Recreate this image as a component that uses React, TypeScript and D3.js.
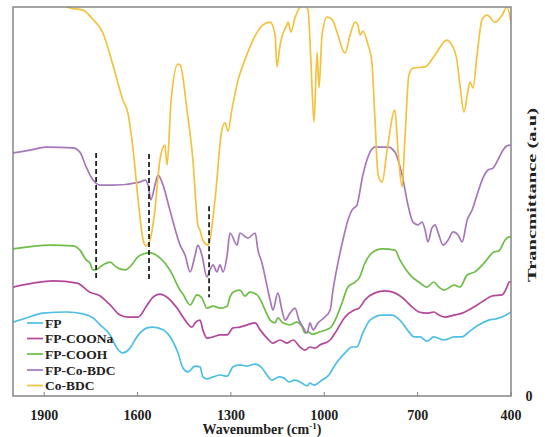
import React from "react";
import * as d3 from "d3";

const W = 545;
const H = 437;
const M = { left: 13, right: 34, top: 7, bottom: 41 };

const xTicks = [1900, 1600, 1300, 1000, 700, 400];

const seriesNames = ["FP", "FP-COONa", "FP-COOH", "FP-Co-BDC", "Co-BDC"];
const seriesColors = ["#4dbfe4", "#b4479a", "#6dbd47", "#a677bb", "#f3c23e"];

// [wavenumber, transmittance (a.u.)]
const fpData: [number, number][] = [
  [2000, 19], [1955, 20.1], [1904, 21.3], [1827, 21.6], [1775, 21.1], [1743, 20.1], [1720, 18.3],
  [1688, 15.7], [1666, 12.3], [1647, 11.1], [1624, 12.3], [1602, 15.2], [1569, 17.5], [1550, 17.7],
  [1518, 17], [1489, 14.4], [1470, 11.1], [1454, 7.2], [1438, 6.2], [1415, 7.7], [1399, 7.5],
  [1390, 4.9], [1377, 4.4], [1357, 4.9], [1335, 5.4], [1312, 5.1], [1293, 7.5], [1271, 8],
  [1248, 7.7], [1222, 8.2], [1200, 7.2], [1184, 5.4], [1168, 4.1], [1145, 4.9], [1129, 4.6],
  [1113, 3.6], [1094, 4.1], [1071, 3.3], [1055, 2.6], [1046, 3.3], [1033, 2.8], [1007, 4.1],
  [985, 5.4], [969, 7.5], [953, 9.3], [933, 11.1], [911, 12.6], [895, 12.6], [876, 16.2],
  [853, 19.5], [814, 20.8], [782, 20.8], [757, 19.5], [728, 16.5], [712, 15.2], [692, 15.2],
  [670, 14.1], [648, 15.2], [615, 14.4], [583, 15.2], [557, 15.2], [535, 16.5], [503, 18.3],
  [471, 19.5], [451, 19.8], [429, 20.3], [406, 21.3], [400, 21.6],
];

const fpCOONaData: [number, number][] = [
  [2000, 28], [1936, 29], [1871, 29.6], [1794, 29], [1753, 26.7], [1720, 25.7], [1688, 23.4],
  [1656, 20.8], [1631, 20.3], [1598, 20.3], [1569, 23.4], [1550, 25.4], [1528, 26.2], [1502, 25.2],
  [1473, 22.6], [1447, 19.5], [1425, 17.7], [1415, 18.8], [1399, 19.5], [1390, 17], [1377, 14.9],
  [1357, 15.2], [1335, 15.7], [1312, 15.7], [1293, 17.5], [1271, 17.7], [1248, 18.3], [1222, 18.8],
  [1206, 17], [1184, 14.9], [1165, 13.6], [1142, 14.4], [1120, 13.6], [1100, 14.4], [1078, 12.6],
  [1062, 11.8], [1046, 12.6], [1030, 12.3], [1014, 13.1], [981, 14.4], [965, 16.2], [933, 20.3],
  [904, 22.1], [888, 22.6], [869, 24.7], [837, 26.5], [805, 27], [773, 26.5], [741, 24.7],
  [718, 22.9], [696, 21.6], [670, 21.3], [648, 21.6], [632, 20.8], [612, 20.3], [583, 20.8],
  [557, 21.3], [525, 22.6], [493, 24.2], [461, 25.7], [429, 26], [413, 28], [406, 29.3], [400, 29.3],
];

const fpCOOHData: [number, number][] = [
  [2000, 37.8], [1881, 38.8], [1807, 38.6], [1785, 37.5], [1765, 35], [1753, 34.2], [1743, 32.4],
  [1730, 32.6], [1711, 33.7], [1688, 34.4], [1669, 33.2], [1640, 32.4], [1614, 34.2], [1602, 35.5],
  [1582, 36.5], [1560, 36.8], [1528, 35.5], [1496, 32.4], [1463, 27.2], [1454, 26.2], [1431, 23.4],
  [1409, 26], [1393, 25.2], [1377, 22.6], [1357, 23.1], [1335, 22.6], [1312, 23.1], [1303, 25.4],
  [1293, 26.7], [1271, 27.2], [1255, 25.7], [1239, 26.7], [1216, 26], [1200, 23.9], [1190, 22.1],
  [1174, 19.5], [1158, 18.8], [1149, 20.1], [1133, 18.8], [1110, 18.3], [1088, 19], [1071, 17.7],
  [1062, 16.2], [1052, 16.5], [1039, 15.9], [1014, 16.5], [981, 17.5], [965, 19.5], [943, 23.9],
  [924, 28], [901, 29.3], [888, 30.3], [869, 34.2], [847, 36.8], [814, 37.8], [773, 37.5],
  [757, 35], [718, 30.6], [696, 29.3], [670, 28], [648, 29.3], [632, 28], [615, 27.2], [583, 28.5],
  [564, 28], [541, 31.1], [516, 31.9], [484, 34.4], [455, 37], [439, 37.3], [419, 40.1], [406, 40.9],
  [400, 40.9],
];

const fpCoBDCData: [number, number][] = [
  [2000, 62.5], [1945, 63.2], [1894, 64], [1807, 63.8], [1785, 62.7], [1765, 58.9], [1743, 55.5],
  [1720, 54.2], [1679, 54.2], [1592, 55], [1576, 55.5], [1566, 54.2], [1557, 50.4], [1544, 54.2],
  [1534, 56.8], [1518, 54.2], [1496, 47.8], [1463, 38.8], [1447, 36.2], [1431, 31.9], [1415, 36.2],
  [1406, 38.8], [1393, 36.2], [1377, 30.6], [1367, 32.4], [1357, 33.7], [1345, 31.9], [1335, 33.7],
  [1325, 31.9], [1312, 36.2], [1303, 41.9], [1280, 38.8], [1271, 41.9], [1245, 40.6], [1222, 41.9],
  [1213, 37.5], [1200, 34.2], [1190, 30.6], [1174, 24.7], [1165, 22.1], [1149, 26.5], [1136, 22.1],
  [1126, 19.5], [1110, 21.3], [1094, 22.6], [1081, 19.5], [1068, 17.7], [1055, 16.2], [1046, 18.8],
  [1036, 17], [1020, 18.8], [998, 20.3], [981, 22.1], [972, 27.2], [956, 34.2], [940, 40.1],
  [924, 45.2], [911, 47.8], [895, 49.1], [876, 56.8], [853, 62.7], [837, 64], [795, 64], [773, 62.7],
  [750, 56.8], [731, 49.1], [715, 44.7], [699, 44], [686, 44.7], [676, 42.7], [667, 39.6], [654, 43.2],
  [644, 44], [635, 42.2], [618, 38.8], [602, 40.1], [586, 42.2], [570, 41.4], [557, 39.6], [541, 45.2],
  [525, 47.8], [509, 51.7], [493, 55.5], [474, 58.1], [458, 58.6], [442, 60.7], [426, 63.2],
  [413, 64.3], [400, 64.5],
];

const coBDCData: [number, number][] = [
  [2000, 103], [1960, 101.5], [1952, 100.3], [1940, 101.8], [1900, 103], [1850, 101.5], [1833, 100.2],
  [1807, 99.6], [1775, 99.2], [1743, 96.8], [1711, 93.3], [1679, 85.1], [1647, 76.1], [1631, 72.8],
  [1614, 63.2], [1598, 50.4], [1582, 40.1], [1573, 38.6], [1560, 40.1], [1544, 47.8], [1528, 60.7],
  [1512, 64.5], [1505, 59.4], [1492, 76.1], [1470, 85.3], [1463, 85.1], [1441, 73.5], [1422, 60.7],
  [1406, 44], [1400, 42.8], [1390, 40.1], [1373, 38.8], [1351, 50.4], [1329, 68.4], [1319, 70.2],
  [1309, 68.1], [1297, 73.5], [1277, 81.2], [1255, 86.4], [1229, 91.5], [1197, 95.4], [1174, 96.1],
  [1158, 92.8], [1152, 84.6], [1142, 90.2], [1120, 95.4], [1116, 96.1], [1107, 93.6], [1094, 97.2],
  [1078, 100], [1068, 100.6], [1058, 100], [1052, 99.2], [1043, 86.4], [1033, 70.4], [1023, 88.4],
  [1017, 79.2], [1007, 92.8], [991, 97.4], [975, 96.8], [956, 92.8], [937, 88.4], [933, 88.2],
  [917, 92.8], [901, 96.1], [892, 95.4], [885, 92.8], [876, 93.8], [859, 90.2], [847, 85.9],
  [837, 71], [827, 56.8], [814, 55], [798, 63.2], [773, 73.5], [763, 63.2], [750, 53.7], [741, 65.8],
  [728, 82.5], [715, 84.3], [676, 84.6], [644, 87.7], [606, 91.5], [590, 90.2], [574, 86.4],
  [564, 79.9], [551, 73], [538, 78.7], [532, 80.7], [522, 79.2], [509, 87.7], [493, 96.8],
  [477, 97.9], [451, 96.1], [429, 97.9], [413, 100], [400, 96.1],
];

const allSeries = [fpData, fpCOONaData, fpCOOHData, fpCoBDCData, coBDCData];

// marker wavenumbers with vertical extent (a.u.)
const markerWavenumbers = [1733, 1563, 1370];
const markerTops = [62.5, 62.2, 48.8];
const markerBottoms = [29.8, 29.3, 25.4];

export default function App() {
  const x = d3.scaleLinear().domain([2000, 400]).range([M.left, W - M.right]);
  const y = d3.scaleLinear().domain([0, 100]).range([H - M.bottom, M.top]);
  const line = d3
    .line<[number, number]>()
    .x((d) => x(d[0]))
    .y((d) => y(d[1]))
    .curve(d3.curveMonotoneX);

  const font = "'Liberation Serif', 'Times New Roman', serif";
  const plotW = W - M.left - M.right;
  const plotH = H - M.top - M.bottom;
  const legendY = [323, 338.5, 354, 370, 385.5];

  return (
    <svg
      width={W}
      height={H}
      style={{ position: "absolute", left: 0, top: 0, background: "#fff" }}
    >
      <defs>
        <clipPath id="plotclip">
          <rect x={M.left} y={M.top} width={plotW} height={plotH} />
        </clipPath>
      </defs>
      <g clipPath="url(#plotclip)">
        {allSeries.map((s, i) => (
          <path
            key={seriesNames[i]}
            d={line(s) || ""}
            fill="none"
            stroke={seriesColors[i]}
            strokeWidth={1.7}
          />
        ))}
      </g>
      {markerWavenumbers.map((w, i) => (
        <line
          key={w}
          x1={x(w)}
          x2={x(w)}
          y1={y(markerTops[i])}
          y2={y(markerBottoms[i])}
          stroke="#222"
          strokeWidth={1.8}
          strokeDasharray="5,3"
        />
      ))}
      <rect
        x={M.left}
        y={M.top}
        width={plotW}
        height={plotH}
        fill="none"
        stroke="#858585"
        strokeWidth={1.5}
      />
      {xTicks.map((t) => (
        <g key={t}>
          <line
            x1={x(t)}
            x2={x(t)}
            y1={H - M.bottom}
            y2={H - M.bottom - 4}
            stroke="#858585"
            strokeWidth={1}
          />
          <text
            x={x(t)}
            y={420}
            textAnchor="middle"
            fontFamily={font}
            fontWeight="bold"
            fontSize={14}
            fill="#222"
          >
            {t}
          </text>
        </g>
      ))}
      <text
        x={262}
        y={434}
        textAnchor="middle"
        fontFamily={font}
        fontWeight="bold"
        fontSize={14}
        fill="#222"
      >
        Wavenumber (cm
        <tspan dy={-5} fontSize={9}>
          -1
        </tspan>
        <tspan dy={5}>)</tspan>
      </text>
      <text
        x={529}
        y={401}
        textAnchor="middle"
        fontFamily={font}
        fontWeight="bold"
        fontSize={14}
        fill="#222"
      >
        0
      </text>
      <text
        transform="translate(536,195) rotate(-90)"
        textAnchor="middle"
        fontFamily={font}
        fontWeight="bold"
        fontSize={13}
        fill="#222"
        textLength={174}
        lengthAdjust="spacingAndGlyphs"
      >
        Trancmittance (a.u)
      </text>
      {seriesNames.map((n, i) => (
        <g key={n}>
          <line
            x1={27}
            x2={43}
            y1={legendY[i]}
            y2={legendY[i]}
            stroke={seriesColors[i]}
            strokeWidth={1.7}
          />
          <text
            x={45}
            y={legendY[i] + 4.5}
            fontFamily={font}
            fontWeight="bold"
            fontSize={13.5}
            fill="#222"
          >
            {n}
          </text>
        </g>
      ))}
    </svg>
  );
}
